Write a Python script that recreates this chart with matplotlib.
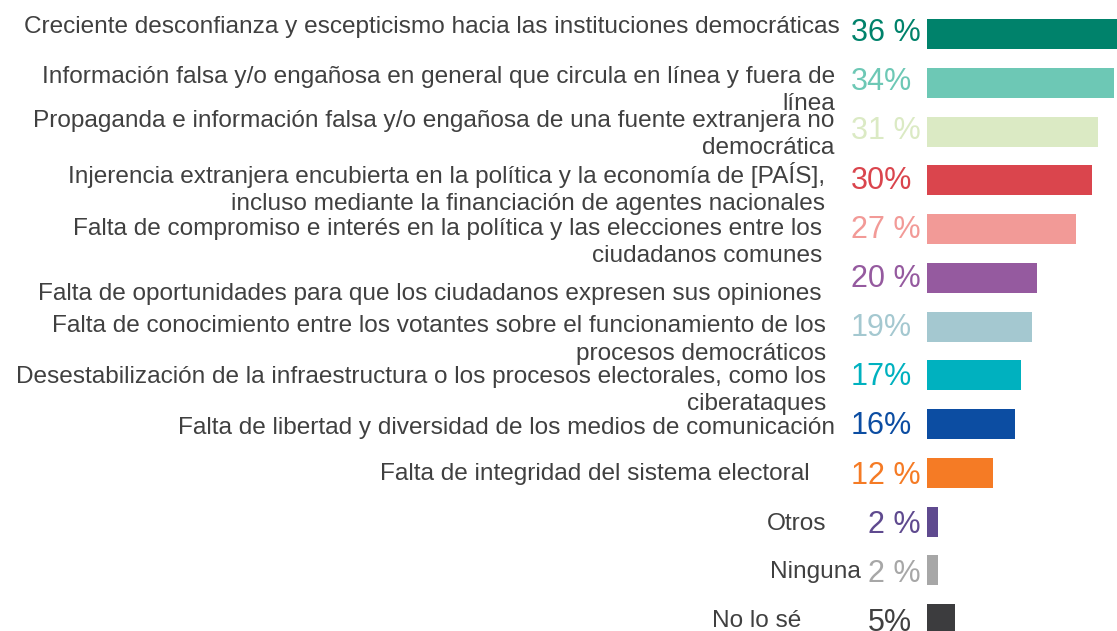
import matplotlib
matplotlib.use("Agg")
import matplotlib.pyplot as plt
from matplotlib import transforms

# ---------------- data ----------------
categories = [
    "Creciente desconfianza y escepticismo hacia las instituciones democráticas",
    "Información falsa y/o engañosa en general que circula en línea y fuera de\nlínea",
    "Propaganda e información falsa y/o engañosa de una fuente extranjera no\ndemocrática",
    "Injerencia extranjera encubierta en la política y la economía de [PAÍS],\nincluso mediante la financiación de agentes nacionales",
    "Falta de compromiso e interés en la política y las elecciones entre los\nciudadanos comunes",
    "Falta de oportunidades para que los ciudadanos expresen sus opiniones",
    "Falta de conocimiento entre los votantes sobre el funcionamiento de los\nprocesos democráticos",
    "Desestabilización de la infraestructura o los procesos electorales, como los\nciberataques",
    "Falta de libertad y diversidad de los medios de comunicación",
    "Falta de integridad del sistema electoral",
    "Otros",
    "Ninguna",
    "No lo sé",
]
values = [36, 34, 31, 30, 27, 20, 19, 17, 16, 12, 2, 2, 5]
value_labels = ["36 %", "34%", "31 %", "30%", "27 %", "20 %", "19%", "17%",
                "16%", "12 %", "2 %", "2 %", "5%"]

# ---------------- style / layout ----------------
bar_colors = ["#00826B", "#6DC8B5", "#DBEAC4", "#DA454D", "#F29A97", "#955A9F",
              "#A4C8D0", "#00B1BF", "#0C4DA2", "#F57B25", "#5F4A8F", "#A7A7A7",
              "#3C3C3E"]
text_colors = bar_colors[:-1] + ["#404040"]
label_color = "#404040"

W, H = 1117, 631
step = 48.75          # px between bar centres
first = 34            # px of first bar centre from top
px_per_unit = 5.5
label_right_px = [840, 835, 834, 825, 822, 822, 826, 826, 835, 810, 826, 861, 801]
# offset (px) of the last text line's baseline from the bar centre
label_base_off = [-1, 27, 23, 30, 33, 22, 33, 35, 10, 7, 8, 8, 8]
pct_left_px = [851] * 10 + [868, 868, 868]

plt.rcParams["font.family"] = ["Liberation Sans", "DejaVu Sans"]

fig = plt.figure(figsize=(W / 100, H / 100), dpi=100)
ax = fig.add_axes([927 / W, 0, 190 / W, 1])
n = len(values)
ax.set_ylim((H - first) / step, -first / step)
ax.set_xlim(0, 190 / px_per_unit)
ax.barh(range(n), values, height=30 / step, color=bar_colors)
ax.axis("off")

trans = transforms.blended_transform_factory(fig.transFigure, ax.transData)
for i, (cat, lab) in enumerate(zip(categories, value_labels)):
    ax.text(label_right_px[i] / W, i + label_base_off[i] / step, cat,
            transform=trans, ha="right", va="baseline", fontsize=17.6,
            color=label_color, linespacing=1.3, clip_on=False)
    ax.text(pct_left_px[i] / W, i + (7 + 0.42 * i) / step, lab,
            transform=trans, ha="left", va="baseline", fontsize=22,
            color=text_colors[i], clip_on=False)

fig.savefig("out.png", dpi=100)
